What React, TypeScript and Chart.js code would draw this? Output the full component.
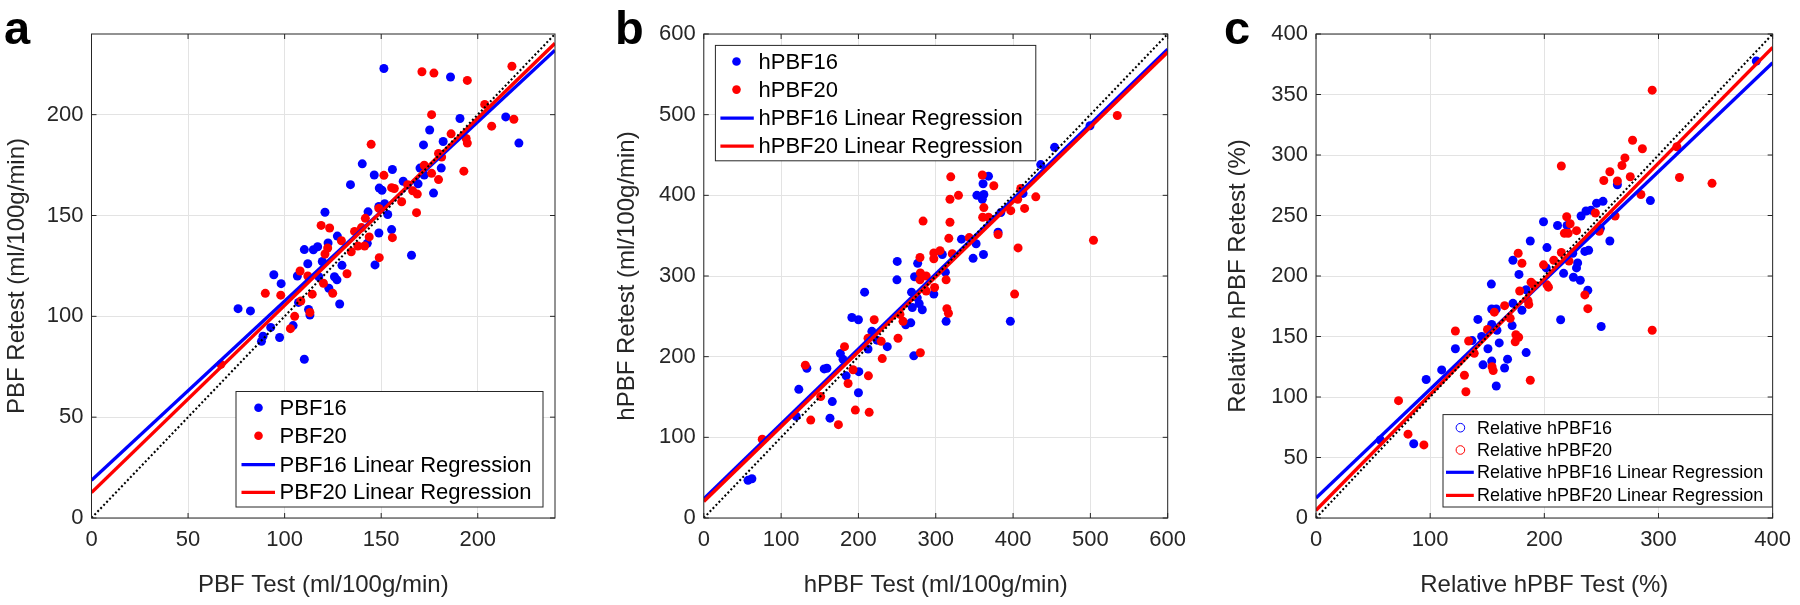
import React, { useEffect, useRef } from "react";
import { Chart, registerables } from "chart.js";

Chart.register(...registerables);

const FONT = "'Liberation Sans', Arial, Helvetica, sans-serif";
const INK = "#262626";
const GRID = "#e3e3e3";
const BLUE = "#0000ff";
const RED = "#ff0000";

// ---------- Panel a : PBF ----------
const aTicksX = [0, 50, 100, 150, 200];
const aTicksY = [0, 50, 100, 150, 200];
const aBlueX = [151.4, 185.9, 190.8, 214.5, 221.3, 175.1, 171.9, 182.1, 181.1, 177.1, 170.1, 172.3, 140.2, 146.4, 134.1, 155.8, 161.4, 149.0, 150.4, 169.1, 120.9, 143.2, 148.8, 151.8, 153.4, 155.4, 148.8, 142.8, 127.3, 117.1, 122.5, 114.9, 110.2, 165.7, 146.8, 129.7, 119.5, 112.0, 127.1, 125.8, 122.9, 117.7, 106.6, 94.4, 98.2, 128.5, 107.2, 112.4, 113.1, 75.9, 82.3, 104.4, 92.8, 97.4, 88.8, 88.0, 110.2];
const aBlueY = [222.9, 218.7, 198.1, 198.9, 185.9, 192.4, 185.0, 186.7, 173.5, 161.1, 173.5, 170.1, 175.6, 170.1, 165.3, 172.8, 167.0, 163.6, 162.5, 165.7, 151.6, 151.8, 154.5, 155.8, 150.5, 143.0, 141.3, 136.2, 139.8, 134.5, 136.4, 133.0, 133.1, 130.3, 125.5, 125.3, 127.2, 126.1, 118.1, 119.6, 113.9, 119.6, 120.0, 120.6, 116.2, 106.1, 106.9, 103.4, 100.6, 103.8, 102.7, 95.4, 94.5, 89.5, 90.1, 87.6, 78.7];
const aRedX = [171.1, 177.3, 194.6, 217.7, 203.6, 207.2, 218.7, 176.1, 186.2, 194.0, 194.6, 144.8, 179.7, 181.3, 192.8, 176.1, 179.7, 172.3, 151.4, 155.4, 156.8, 163.7, 166.3, 168.7, 160.6, 168.3, 148.8, 141.8, 118.9, 123.3, 136.2, 139.8, 143.8, 155.8, 129.4, 137.9, 134.5, 141.4, 122.3, 120.9, 132.3, 149.0, 108.0, 112.0, 120.1, 124.9, 114.3, 90.0, 98.0, 108.4, 113.1, 105.2, 103.0, 67.0];
const aRedY = [221.3, 220.6, 217.0, 224.0, 205.1, 194.3, 197.7, 200.0, 190.5, 188.2, 185.9, 185.3, 180.8, 179.0, 172.0, 170.9, 167.8, 174.9, 169.9, 163.8, 163.4, 165.3, 162.3, 160.6, 156.8, 151.4, 153.5, 148.6, 145.1, 143.8, 142.1, 144.0, 139.4, 139.0, 137.5, 134.9, 132.0, 134.9, 133.9, 130.9, 121.1, 129.1, 122.5, 120.0, 116.4, 111.4, 111.0, 111.4, 110.5, 107.6, 101.9, 100.0, 93.9, 76.2];
const aFitX = [0, 240];
const aBlueFitY = [18.7, 232.0];
const aRedFitY = [12.6, 235.4];
const aIdentY = [0, 240];
const aLegend = ["PBF16", "PBF20", "PBF16 Linear Regression", "PBF20 Linear Regression"];

// ---------- Panel b : hPBF ----------
const bTicksX = [0, 100, 200, 300, 400, 500, 600];
const bTicksY = [0, 100, 200, 300, 400, 500, 600];
const bBlueX = [57.2, 62.2, 122.9, 119.4, 133.3, 155.7, 159.2, 166.2, 163.2, 176.6, 180.1, 184.1, 191.5, 200.0, 200.5, 200.0, 208.0, 212.4, 217.4, 224.0, 237.3, 250.2, 249.8, 261.2, 267.7, 268.7, 271.6, 272.6, 276.6, 276.1, 278.6, 282.6, 269.7, 297.5, 308.5, 312.4, 313.4, 333.3, 348.3, 352.2, 353.2, 360.2, 362.2, 361.2, 368.2, 361.7, 380.6, 384.1, 396.5, 412.9, 435.8, 453.7, 499.5];
const bBlueY = [46.7, 48.6, 159.5, 126.2, 185.7, 184.8, 185.7, 144.3, 123.8, 203.8, 196.7, 176.2, 248.6, 245.7, 181.4, 155.2, 280.0, 209.5, 231.4, 220.5, 212.4, 318.1, 295.2, 239.5, 241.9, 280.0, 201.0, 299.0, 315.7, 272.9, 265.7, 258.1, 261.0, 277.6, 326.7, 304.8, 243.8, 345.7, 321.9, 340.0, 400.0, 395.2, 401.0, 414.3, 423.8, 326.7, 354.3, 378.6, 243.8, 402.4, 438.1, 459.5, 486.2];
const bRedX = [75.6, 131.3, 138.3, 151.2, 174.1, 182.0, 186.6, 193.0, 196.0, 212.9, 213.9, 220.4, 212.4, 229.4, 230.8, 251.2, 257.7, 253.7, 280.1, 283.6, 279.6, 280.1, 279.6, 287.6, 287.6, 297.5, 297.5, 305.5, 298.5, 313.4, 316.9, 314.4, 316.4, 319.4, 318.4, 329.4, 318.4, 321.4, 343.3, 360.2, 362.2, 360.7, 368.2, 375.1, 380.6, 397.0, 402.0, 406.5, 406.0, 410.0, 414.9, 429.4, 504.0, 534.8];
const bRedY = [97.6, 189.5, 121.4, 150.5, 115.7, 212.4, 166.7, 183.8, 133.8, 176.2, 131.0, 245.7, 222.9, 219.0, 197.6, 222.9, 243.8, 252.4, 204.8, 368.1, 322.9, 303.8, 295.2, 300.0, 281.4, 328.6, 321.4, 331.4, 285.7, 295.2, 346.7, 259.5, 253.8, 422.9, 395.2, 400.0, 366.7, 327.6, 347.6, 425.2, 384.8, 372.9, 372.9, 411.9, 351.4, 381.0, 277.6, 334.8, 395.2, 408.6, 383.8, 398.1, 344.3, 499.0];
const bFitX = [0, 600];
const bBlueFitY = [23.8, 581.0];
const bRedFitY = [20.5, 577.6];
const bIdentY = [0, 600];
const bLegend = ["hPBF16", "hPBF20", "hPBF16 Linear Regression", "hPBF20 Linear Regression"];

// ---------- Panel c : relative hPBF ----------
const cTicksX = [0, 100, 200, 300, 400];
const cTicksY = [0, 50, 100, 150, 200, 250, 300, 350, 400];
const cBlueX = [56.4, 85.6, 96.5, 110.1, 122.1, 136.7, 141.8, 145.1, 146.3, 150.6, 153.6, 153.9, 153.9, 153.9, 157.9, 157.9, 158.5, 160.5, 165.2, 167.8, 171.8, 172.5, 172.5, 177.8, 180.4, 184.1, 184.1, 187.7, 199.3, 202.3, 201.7, 211.6, 214.3, 216.9, 219.9, 224.9, 225.5, 228.2, 229.2, 232.2, 231.5, 236.5, 235.5, 238.8, 238.1, 240.8, 245.8, 249.1, 249.8, 251.4, 257.4, 264.0, 292.9, 385.7];
const cBlueY = [64.5, 61.4, 114.5, 122.4, 139.9, 146.6, 164.1, 150.1, 126.6, 139.9, 193.3, 172.7, 159.9, 129.7, 172.7, 109.1, 155.2, 144.7, 124.0, 131.3, 159.0, 213.0, 177.4, 201.3, 171.7, 136.7, 188.6, 228.9, 244.8, 223.5, 206.7, 241.7, 163.8, 202.2, 241.7, 218.8, 199.0, 206.7, 210.8, 249.6, 196.5, 253.7, 220.3, 221.3, 188.2, 254.4, 260.1, 239.4, 158.3, 261.7, 228.9, 275.4, 262.3, 377.7];
const cRedX = [72.3, 80.6, 94.5, 122.1, 130.0, 131.3, 133.7, 138.6, 150.2, 154.2, 155.2, 156.2, 165.2, 170.1, 175.1, 177.5, 174.5, 177.1, 178.4, 180.4, 185.7, 186.4, 187.7, 188.4, 190.4, 199.3, 202.3, 203.6, 208.3, 214.9, 214.9, 217.6, 219.6, 220.9, 221.6, 222.6, 228.2, 235.5, 238.1, 244.7, 248.1, 252.1, 257.4, 262.0, 264.0, 268.0, 270.6, 275.3, 277.3, 284.6, 285.9, 294.5, 294.5, 316.1, 318.4, 346.9];
const cRedY = [97.0, 69.3, 60.4, 154.5, 118.0, 104.3, 146.3, 136.1, 155.8, 125.0, 121.8, 170.1, 175.5, 165.0, 151.4, 149.4, 145.6, 218.8, 187.6, 210.5, 179.7, 176.5, 113.8, 194.9, 193.0, 209.2, 192.7, 190.8, 213.0, 290.9, 219.4, 235.3, 249.0, 235.3, 212.4, 243.2, 237.5, 184.4, 173.0, 252.1, 236.9, 278.9, 286.2, 249.6, 278.5, 291.3, 297.6, 282.0, 312.2, 267.4, 305.2, 353.6, 155.2, 306.8, 281.4, 276.6];
const cFitX = [0, 400];
const cBlueFitY = [16.5, 376.2];
const cRedFitY = [6.4, 388.9];
const cIdentY = [0, 400];
const cLegend = ["Relative hPBF16", "Relative hPBF20", "Relative hPBF16 Linear Regression", "Relative hPBF20 Linear Regression"];

type PanelCfg = {
  letter: string;
  letterX: number;
  xMax: number;
  yMax: number;
  ticksX: number[];
  ticksY: number[];
  blueX: number[];
  blueY: number[];
  redX: number[];
  redY: number[];
  fitX: number[];
  blueFitY: number[];
  redFitY: number[];
  identY: number[];
  xTitle: string;
  yTitle: string;
  legend: string[];
  yWidth: number;
  padRight: number;
  yTitlePad: number;
  legendBox: { l: number; t: number; r: number; b: number };
  legendMarkX: number;
  legendLine: [number, number];
  legendTextX: number;
  legendRows: number[];
  legendFont: number;
  openMarkers: boolean;
};

const pts = (xs: number[], ys: number[]) => xs.map((x, i) => ({ x, y: ys[i] }));

function decorPlugin(cfg: PanelCfg) {
  return {
    id: "decor" + cfg.letter,
    afterDraw(chart: any) {
      const ctx: CanvasRenderingContext2D = chart.ctx;
      const { left, right, top, bottom } = chart.chartArea;
      const xs = chart.scales.x;
      const ys = chart.scales.y;
      ctx.save();
      // box
      ctx.strokeStyle = INK;
      ctx.lineWidth = 1;
      ctx.strokeRect(left, top, right - left, bottom - top);
      // inward ticks
      const tl = 5;
      ctx.beginPath();
      cfg.ticksX.forEach((v) => {
        const p = xs.getPixelForValue(v);
        ctx.moveTo(p, bottom);
        ctx.lineTo(p, bottom - tl);
        ctx.moveTo(p, top);
        ctx.lineTo(p, top + tl);
      });
      cfg.ticksY.forEach((v) => {
        const p = ys.getPixelForValue(v);
        ctx.moveTo(left, p);
        ctx.lineTo(left + tl, p);
        ctx.moveTo(right, p);
        ctx.lineTo(right - tl, p);
      });
      ctx.stroke();

      // legend
      const lb = cfg.legendBox;
      ctx.fillStyle = "#ffffff";
      ctx.fillRect(lb.l, lb.t, lb.r - lb.l, lb.b - lb.t);
      ctx.strokeStyle = INK;
      ctx.lineWidth = 1;
      ctx.strokeRect(lb.l, lb.t, lb.r - lb.l, lb.b - lb.t);
      const colors = [BLUE, RED, BLUE, RED];
      cfg.legend.forEach((txt, i) => {
        const y = cfg.legendRows[i];
        if (i < 2) {
          ctx.beginPath();
          ctx.arc(cfg.legendMarkX, y, 4.3, 0, Math.PI * 2);
          if (cfg.openMarkers) {
            ctx.strokeStyle = colors[i];
            ctx.lineWidth = 1;
            ctx.stroke();
          } else {
            ctx.fillStyle = colors[i];
            ctx.fill();
          }
        } else {
          ctx.beginPath();
          ctx.moveTo(cfg.legendLine[0], y);
          ctx.lineTo(cfg.legendLine[1], y);
          ctx.strokeStyle = colors[i];
          ctx.lineWidth = 3.2;
          ctx.stroke();
        }
        ctx.fillStyle = "#000000";
        ctx.font = `${cfg.legendFont}px ${FONT}`;
        ctx.textBaseline = "middle";
        ctx.textAlign = "left";
        ctx.fillText(txt, cfg.legendTextX, y + 1);
      });

      // panel letter
      ctx.fillStyle = "#000000";
      ctx.font = `bold 47px ${FONT}`;
      ctx.textBaseline = "alphabetic";
      ctx.textAlign = "left";
      ctx.fillText(cfg.letter, cfg.letterX, 44);
      ctx.restore();
    },
  };
}

function buildConfig(cfg: PanelCfg): any {
  const tickFont = { family: FONT, size: 22 };
  const titleFont = { family: FONT, size: 24 };
  return {
    type: "scatter",
    data: {
      datasets: [
        {
          data: pts(cfg.fitX, cfg.identY),
          showLine: true,
          borderColor: "#000000",
          borderWidth: 2.1,
          borderDash: [2, 2.3],
          pointRadius: 0,
          fill: false,
          order: 0,
        },
        {
          data: pts(cfg.fitX, cfg.redFitY),
          showLine: true,
          borderColor: RED,
          borderWidth: 3.4,
          pointRadius: 0,
          fill: false,
          order: 1,
        },
        {
          data: pts(cfg.fitX, cfg.blueFitY),
          showLine: true,
          borderColor: BLUE,
          borderWidth: 3.4,
          pointRadius: 0,
          fill: false,
          order: 2,
        },
        {
          data: pts(cfg.redX, cfg.redY),
          backgroundColor: RED,
          borderWidth: 0,
          pointRadius: 4.5,
          order: 3,
        },
        {
          data: pts(cfg.blueX, cfg.blueY),
          backgroundColor: BLUE,
          borderWidth: 0,
          pointRadius: 4.5,
          order: 4,
        },
      ],
    },
    options: {
      animation: false,
      responsive: false,
      maintainAspectRatio: false,
      events: [],
      layout: { padding: { left: 0, right: cfg.padRight, top: 34, bottom: 0 } },
      plugins: { legend: { display: false }, tooltip: { enabled: false } },
      scales: {
        x: {
          type: "linear",
          min: 0,
          max: cfg.xMax,
          afterFit: (s: any) => {
            s.height = 87;
          },
          afterBuildTicks: (s: any) => {
            s.ticks = cfg.ticksX.map((v) => ({ value: v }));
          },
          ticks: { padding: 9, color: INK, font: tickFont, maxRotation: 0, autoSkip: false },
          grid: { color: GRID, lineWidth: 1, drawTicks: false },
          border: { display: false },
          title: { display: true, text: cfg.xTitle, color: INK, font: titleFont, padding: { top: 0, bottom: 5.6 } },
        },
        y: {
          type: "linear",
          min: 0,
          max: cfg.yMax,
          afterFit: (s: any) => {
            s.width = cfg.yWidth;
          },
          afterBuildTicks: (s: any) => {
            s.ticks = cfg.ticksY.map((v) => ({ value: v }));
          },
          ticks: { padding: 8, color: INK, font: tickFont, autoSkip: false },
          grid: { color: GRID, lineWidth: 1, drawTicks: false },
          border: { display: false },
          title: { display: true, text: cfg.yTitle, color: INK, font: titleFont, padding: { top: cfg.yTitlePad, bottom: 0 } },
        },
      },
    },
    plugins: [decorPlugin(cfg)],
  };
}

const panelA: PanelCfg = {
  letter: "a", letterX: 4, xMax: 240, yMax: 240, ticksX: aTicksX, ticksY: aTicksY,
  blueX: aBlueX, blueY: aBlueY, redX: aRedX, redY: aRedY,
  fitX: aFitX, blueFitY: aBlueFitY, redFitY: aRedFitY, identY: aIdentY,
  xTitle: "PBF Test (ml/100g/min)", yTitle: "PBF Retest (ml/100g/min)", legend: aLegend,
  yWidth: 91.5, padRight: 45, yTitlePad: 2.6,
  legendBox: { l: 236, t: 391.5, r: 543, b: 507 }, legendMarkX: 258.5, legendLine: [241.5, 275],
  legendTextX: 279.6, legendRows: [407.7, 435.8, 464.6, 492.3], legendFont: 22, openMarkers: false,
};

const panelB: PanelCfg = {
  letter: "b", letterX: 15, xMax: 600, yMax: 600, ticksX: bTicksX, ticksY: bTicksY,
  blueX: bBlueX, blueY: bBlueY, redX: bRedX, redY: bRedY,
  fitX: bFitX, blueFitY: bBlueFitY, redFitY: bRedFitY, identY: bIdentY,
  xTitle: "hPBF Test (ml/100g/min)", yTitle: "hPBF Retest (ml/100g/min)", legend: bLegend,
  yWidth: 103.8, padRight: 32.3, yTitlePad: 12.6,
  legendBox: { l: 115.4, t: 45.4, r: 435.8, b: 160.8 }, legendMarkX: 136.5, legendLine: [120.4, 153.8],
  legendTextX: 158.5, legendRows: [61.5, 89.6, 118.1, 146.2], legendFont: 22, openMarkers: false,
};

const panelC: PanelCfg = {
  letter: "c", letterX: 24, xMax: 400, yMax: 400, ticksX: cTicksX, ticksY: cTicksY,
  blueX: cBlueX, blueY: cBlueY, redX: cRedX, redY: cRedY,
  fitX: cFitX, blueFitY: cBlueFitY, redFitY: cRedFitY, identY: cIdentY,
  xTitle: "Relative hPBF Test (%)", yTitle: "Relative hPBF Retest (%)", legend: cLegend,
  yWidth: 116, padRight: 20, yTitlePad: 23.6,
  legendBox: { l: 243, t: 414.6, r: 572.3, b: 507 }, legendMarkX: 260.4, legendLine: [246, 273.8],
  legendTextX: 277, legendRows: [427.7, 450, 472.3, 495.4], legendFont: 18, openMarkers: true,
};

function Panel({ cfg, left }: { cfg: PanelCfg; left: number }) {
  const ref = useRef<HTMLCanvasElement | null>(null);
  useEffect(() => {
    if (!ref.current) return;
    const chart = new Chart(ref.current, buildConfig(cfg));
    return () => chart.destroy();
  }, [cfg]);
  return (
    <canvas
      ref={ref}
      width={600}
      height={605}
      style={{ position: "absolute", left, top: 0, width: 600, height: 605, display: "block" }}
    />
  );
}

export default function App() {
  return (
    <div style={{ position: "absolute", left: 0, top: 0, width: 1800, height: 605, background: "#ffffff", overflow: "hidden" }}>
      <Panel cfg={panelA} left={0} />
      <Panel cfg={panelB} left={600} />
      <Panel cfg={panelC} left={1200} />
    </div>
  );
}
